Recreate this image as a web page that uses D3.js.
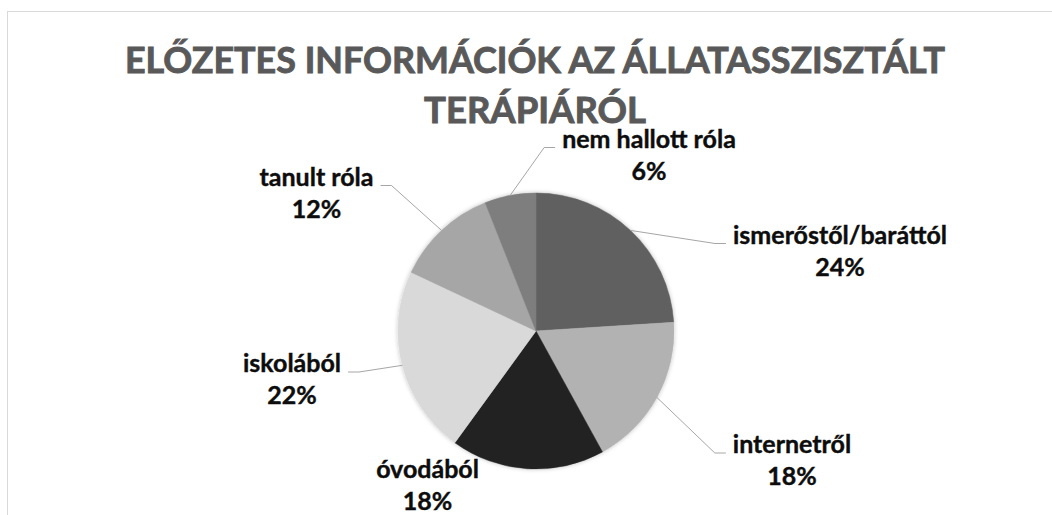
<!DOCTYPE html>
<html>
<head>
  <meta charset="utf-8">
  <title>Előzetes információk az állatasszisztált terápiáról</title>
  <style>
    body { margin: 0; background: #ffffff; }
    .title { font-family: Lato, "Open Sans", sans-serif; font-weight: bold; fill: #595959; stroke: #595959; stroke-width: 0.9px; }
    .label text { font-family: Lato, "Open Sans", sans-serif; font-weight: bold; font-size: 25px; fill: #0d0d0d; stroke: #0d0d0d; stroke-width: 0.4px; }
    .leader { fill: none; stroke: #a6a6a6; stroke-width: 1; }
  </style>
</head>
<body>
  <svg id="chart" width="1052" height="515"></svg>
  <script src="https://d3js.org/d3.v7.min.js"></script>
  <script>
    // chart data
    const categories = ["ismerőstől/baráttól", "internetről", "óvodából", "iskolából", "tanult róla", "nem hallott róla"];
    const shares = [24, 18, 18, 22, 12, 6];
    const titleLines = ["ELŐZETES INFORMÁCIÓK AZ ÁLLATASSZISZTÁLT", "TERÁPIÁRÓL"];

    const sliceColors = ["#606060", "#b2b2b2", "#232323", "#d9d9d9", "#a6a6a6", "#7e7e7e"];

    const width = 1052, height = 515;
    const cx = 536, cy = 331, radius = 138;

    // where each label block sits (centre x, first baseline), relative to pie centre
    const labelOffsets = [[304, -87.5], [256, 122], [-108.5, 147], [-244, 41], [-219.5, -145.5], [113, -183.5]];
    const hasLeader = [true, true, false, true, true, true];
    const lineGap = 32;

    const svg = d3.select("#chart");

    // chart area border
    svg.append("rect")
      .attr("x", 7.5).attr("y", 11.5)
      .attr("width", width + 20).attr("height", height + 20)
      .attr("fill", "none").attr("stroke", "#d9d9d9").attr("stroke-width", 1);

    // title
    const titleLen = [820, 222];
    const titleY = [72.5, 122.5];
    svg.selectAll(".title")
      .data(titleLines)
      .enter()
      .append("text")
      .attr("class", "title")
      .attr("x", 535)
      .attr("y", (d, i) => titleY[i])
      .attr("text-anchor", "middle")
      .attr("font-size", 36)
      .attr("textLength", (d, i) => titleLen[i])
      .attr("lengthAdjust", "spacingAndGlyphs")
      .text(d => d);

    // soft shadow like the office chart
    const defs = svg.append("defs");
    const shadow = defs.append("filter").attr("id", "shadow")
      .attr("x", "-20%").attr("y", "-20%").attr("width", "140%").attr("height", "140%");
    shadow.append("feDropShadow")
      .attr("dx", 0).attr("dy", 0).attr("stdDeviation", 2)
      .attr("flood-color", "#000").attr("flood-opacity", 0.25);

    const pie = d3.pie().sort(null).value(d => d);
    const arcs = pie(shares);
    const arc = d3.arc().innerRadius(0).outerRadius(radius);

    const g = svg.append("g").attr("transform", `translate(${cx},${cy})`);

    g.append("g")
      .attr("filter", "url(#shadow)")
      .selectAll("path")
      .data(arcs)
      .enter()
      .append("path")
      .attr("d", arc)
      .attr("fill", (d, i) => sliceColors[i])
      .attr("stroke", (d, i) => sliceColors[i])
      .attr("stroke-width", 0.5);

    // labels
    const labels = g.selectAll(".label")
      .data(arcs)
      .enter()
      .append("g")
      .attr("class", "label");

    labels.append("text")
      .attr("x", (d, i) => labelOffsets[i][0])
      .attr("y", (d, i) => labelOffsets[i][1])
      .attr("text-anchor", "middle")
      .text((d, i) => categories[i]);

    labels.append("text")
      .attr("x", (d, i) => labelOffsets[i][0])
      .attr("y", (d, i) => labelOffsets[i][1] + lineGap)
      .attr("text-anchor", "middle")
      .text(d => d3.format(".0%")(d.value / d3.sum(shares)));

    // leader lines: from slice edge at mid angle to the side of the label's first line
    labels.each(function (d, i) {
      if (!hasLeader[i]) return;
      const first = d3.select(this).select("text").node();
      const w = first.getComputedTextLength();
      const mid = (d.startAngle + d.endAngle) / 2;
      const sx = Math.sin(mid) * radius, sy = -Math.cos(mid) * radius;
      const lx = labelOffsets[i][0], ly = labelOffsets[i][1];
      const right = lx > sx;
      const ex = right ? lx - w / 2 - 7 : lx + w / 2 + 7;
      const kx = right ? ex - 11 : ex + 11;
      d3.select(this).insert("path", "text")
        .attr("class", "leader")
        .attr("d", d3.line()([[sx, sy], [kx, ly], [ex, ly]]));
    });
  </script>
</body>
</html>
